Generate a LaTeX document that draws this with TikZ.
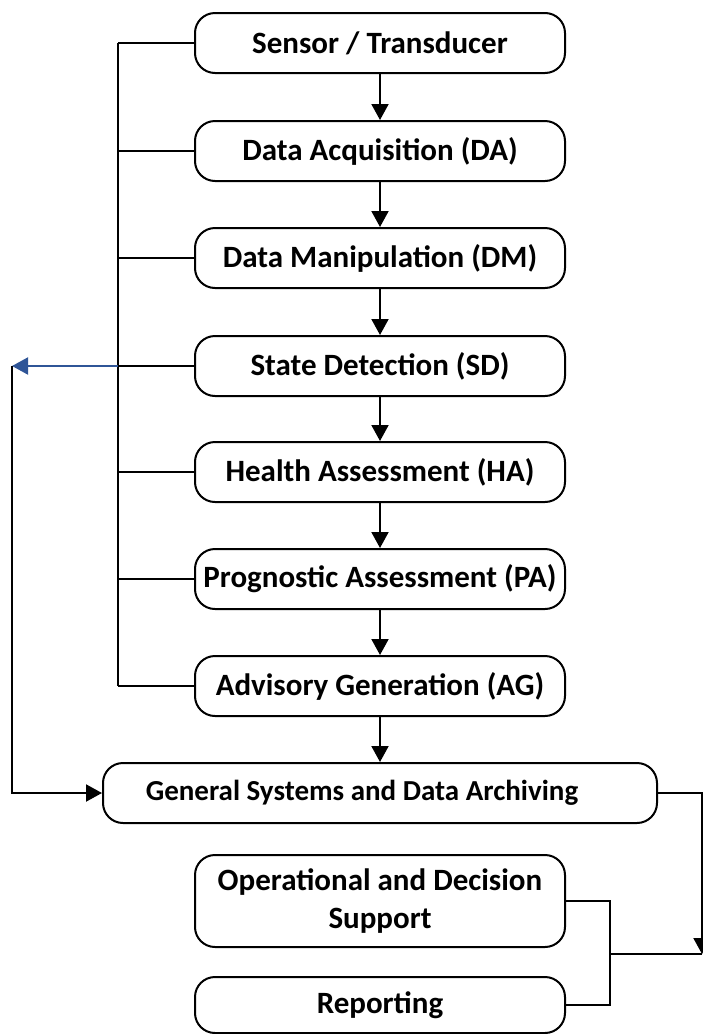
\documentclass[tikz,border=0pt]{standalone}
\usepackage{fontspec}
\setmainfont{Carlito}
\usetikzlibrary{arrows.meta}
\definecolor{arrowblue}{RGB}{47,85,151}
\tikzset{
  box/.style={draw=black, line width=2pt, rounded corners=20pt, minimum width=370pt,
    minimum height=60pt, align=center, inner sep=0pt,
    font=\fontsize{31}{38}\selectfont\bfseries},
  conn/.style={draw=black, line width=2pt},
  tip/.style={-{Triangle[length=16pt,width=17pt]}},
}
\begin{document}
\begin{tikzpicture}[x=1pt,y=-1pt]
\useasboundingbox (0,0) rectangle (703,1034);
\node[box] (st) at (380,43) {Sensor / Transducer};
\node[box] (da) at (380,151) {Data Acquisition (DA)};
\node[box] (dm) at (380,258) {Data Manipulation (DM)};
\node[box] (sd) at (380,366) {State Detection (SD)};
\node[box] (ha) at (380,472) {Health Assessment (HA)};
\node[box] (pa) at (380,579) {Prognostic Assessment (PA)};
\node[box] (ag) at (380,686) {Advisory Generation (AG)};
\node[box, minimum width=554pt, font=\fontsize{29}{36}\selectfont\bfseries] (gs) at (380,793) {General Systems and Data Archiving\hspace*{36pt}};
\node[box, minimum height=92pt] (ods) at (380,901) {Operational and Decision\\Support};
\node[box, minimum height=56pt] (rep) at (380,1005) {Reporting};
% vertical chain
\foreach \a/\b in {st/da,da/dm,dm/sd,sd/ha,ha/pa,pa/ag,ag/gs}
  \draw[conn,tip] (\a.south) -- (\b.north);
% left bus
\coordinate (bt) at (118,43);
\coordinate (bb) at (118,686);
\draw[conn] (bt) -- (bb);
\foreach \n in {st,da,dm,sd,ha,pa,ag}
  \draw[conn] (\n.west) -- (\n.west -| bt);
% blue arrow
\coordinate (lb) at (12,366);
\draw[draw=arrowblue, line width=2pt, -{Triangle[length=16pt,width=17pt]}, arrowblue] (sd.west -| bt) -- (lb);
\draw[conn,tip] (lb) |- (gs.west);
% right side
\coordinate (rc) at (702,954);
\coordinate (bk) at (610,954);
\draw[conn,tip] (gs.east) -| (rc);
\draw[conn] (rc) -- (bk);
\draw[conn] (ods.east) -| (bk) |- (rep.east);
\end{tikzpicture}
\end{document}
